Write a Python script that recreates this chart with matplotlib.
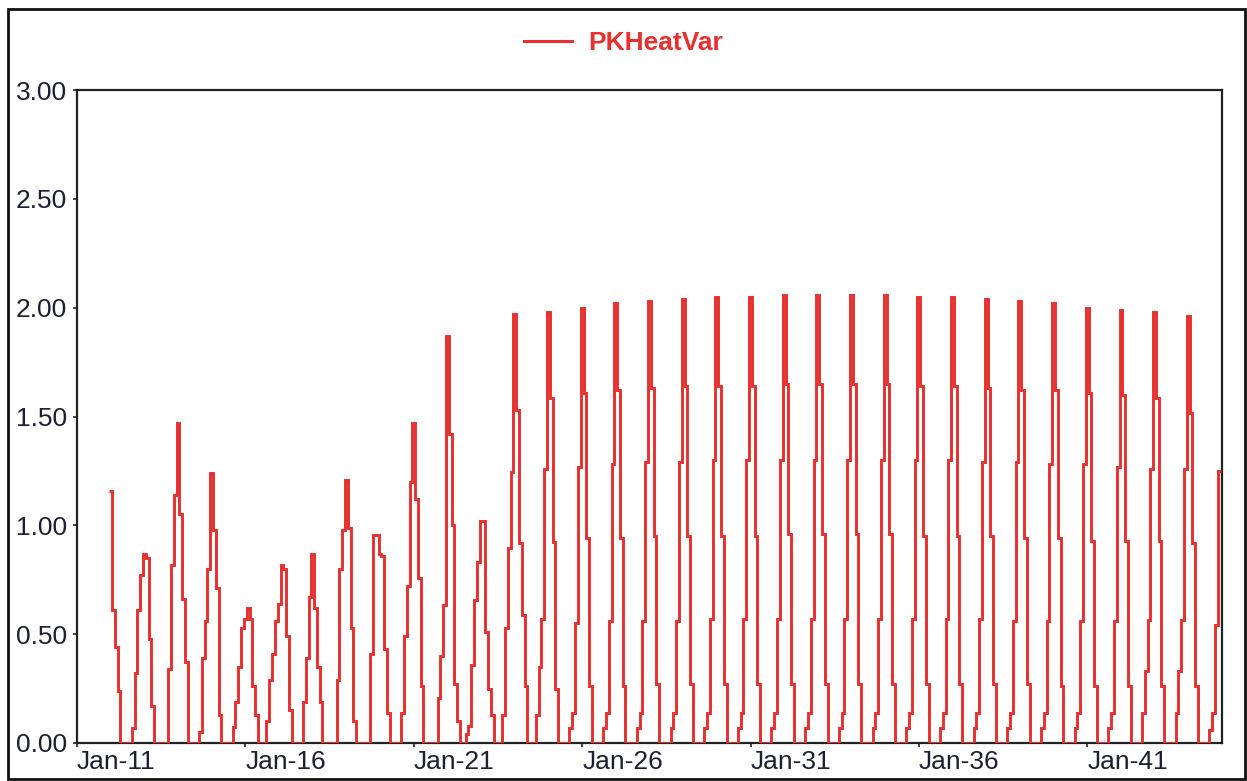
import matplotlib
matplotlib.use("Agg")
import matplotlib.pyplot as plt
import matplotlib.dates as mdates
from matplotlib.patches import Rectangle
import numpy as np
import pandas as pd

# Data: monthly PKHeatVar values, Jan 2012 .. Dec 2044 (one row per year, Jan..Dec)
series_name = "PKHeatVar"
first_month = "2012-01-01"
pk_heat = [
    1.16, 0.61, 0.44, 0.24, 0, 0, 0, 0, 0.07, 0.32, 0.61, 0.77,        # 2012
    0.87, 0.85, 0.48, 0.17, 0, 0, 0, 0, 0, 0.34, 0.82, 1.14,           # 2013
    1.47, 1.05, 0.66, 0.37, 0, 0, 0, 0, 0.05, 0.39, 0.56, 0.80,        # 2014
    1.24, 0.98, 0.71, 0.13, 0, 0, 0, 0, 0.075, 0.19, 0.35, 0.53,       # 2015
    0.57, 0.62, 0.57, 0.26, 0.13, 0, 0, 0, 0.10, 0.29, 0.41, 0.56,     # 2016
    0.64, 0.82, 0.80, 0.49, 0.15, 0, 0, 0, 0, 0.19, 0.39, 0.67,        # 2017
    0.87, 0.62, 0.35, 0.19, 0, 0, 0, 0, 0, 0.29, 0.80, 0.98,           # 2018
    1.21, 0.99, 0.53, 0.10, 0, 0, 0, 0, 0, 0.41, 0.955, 0.955,         # 2019
    0.87, 0.86, 0.43, 0.14, 0, 0, 0, 0, 0.14, 0.49, 0.72, 1.20,        # 2020
    1.47, 1.12, 0.76, 0.26, 0, 0, 0, 0, 0, 0.205, 0.40, 0.634,         # 2021
    1.87, 1.42, 1.00, 0.27, 0.10, 0, 0, 0.04, 0.08, 0.36, 0.657, 0.833,  # 2022
    1.02, 1.02, 0.51, 0.25, 0.13, 0, 0, 0, 0.13, 0.53, 0.894, 1.247,   # 2023
    1.97, 1.53, 0.917, 0.588, 0.26, 0, 0, 0, 0.13, 0.35, 0.57, 1.26,   # 2024
    1.98, 1.585, 0.925, 0.25, 0, 0, 0, 0, 0.067, 0.136, 0.55, 1.27,   # 2025
    2.00, 1.61, 0.94, 0.26, 0, 0, 0, 0, 0.07, 0.14, 0.56, 1.28,        # 2026
    2.02, 1.62, 0.94, 0.26, 0, 0, 0, 0, 0.07, 0.14, 0.56, 1.29,        # 2027
    2.03, 1.63, 0.95, 0.27, 0, 0, 0, 0, 0.07, 0.14, 0.56, 1.29,        # 2028
    2.04, 1.64, 0.95, 0.27, 0, 0, 0, 0, 0.07, 0.14, 0.57, 1.30,        # 2029
    2.05, 1.64, 0.95, 0.27, 0, 0, 0, 0, 0.07, 0.14, 0.57, 1.30,        # 2030
    2.05, 1.64, 0.95, 0.27, 0, 0, 0, 0, 0.07, 0.14, 0.57, 1.30,        # 2031
    2.06, 1.65, 0.96, 0.27, 0, 0, 0, 0, 0.07, 0.14, 0.57, 1.30,        # 2032
    2.06, 1.65, 0.96, 0.27, 0, 0, 0, 0, 0.07, 0.14, 0.57, 1.30,        # 2033
    2.06, 1.65, 0.96, 0.27, 0, 0, 0, 0, 0.07, 0.14, 0.57, 1.30,        # 2034
    2.06, 1.65, 0.96, 0.27, 0, 0, 0, 0, 0.07, 0.14, 0.57, 1.30,        # 2035
    2.05, 1.64, 0.95, 0.27, 0, 0, 0, 0, 0.07, 0.14, 0.57, 1.30,        # 2036
    2.05, 1.64, 0.95, 0.27, 0, 0, 0, 0, 0.07, 0.14, 0.57, 1.29,        # 2037
    2.04, 1.63, 0.95, 0.27, 0, 0, 0, 0, 0.07, 0.14, 0.56, 1.29,        # 2038
    2.03, 1.62, 0.94, 0.27, 0, 0, 0, 0, 0.07, 0.14, 0.56, 1.28,        # 2039
    2.02, 1.62, 0.94, 0.26, 0, 0, 0, 0, 0.07, 0.14, 0.56, 1.28,        # 2040
    2.00, 1.61, 0.93, 0.26, 0, 0, 0, 0, 0.07, 0.14, 0.56, 1.27,        # 2041
    1.99, 1.60, 0.93, 0.26, 0, 0, 0, 0, 0.14, 0.33, 0.565, 1.26,       # 2042
    1.98, 1.585, 0.93, 0.26, 0, 0, 0, 0, 0.14, 0.33, 0.565, 1.26,      # 2043
    1.96, 1.515, 0.92, 0.26, 0, 0, 0, 0, 0.06, 0.14, 0.54, 1.25,       # 2044
]
tick_years = [2011, 2016, 2021, 2026, 2031, 2036, 2041]
y_ticks = [0.0, 0.5, 1.0, 1.5, 2.0, 2.5, 3.0]

red = "#E8302E"
txt = "#1f1f33"
plt.rcParams["font.family"] = ["Liberation Sans", "DejaVu Sans"]

W, H = 1247, 781
fig = plt.figure(figsize=(W / 100, H / 100), dpi=100)
ax = fig.add_axes([77 / W, 1 - 743 / H, (1222 - 77) / W, (743 - 90) / H])

# each monthly value is held from half a month before to half a month after its date
t = mdates.date2num(pd.date_range(first_month, periods=len(pk_heat), freq="MS"))
mid = (t[1:] + t[:-1]) / 2
edges = np.concatenate([[t[0] - (t[1] - t[0]) / 2], mid, [t[-1] + (t[-1] - t[-2]) / 2]])
ax.stairs(pk_heat, edges, baseline=None, color=red, linewidth=2.1,
          zorder=3, label=series_name)

ax.set_xlim(mdates.date2num(pd.Timestamp("2011-01-01")),
            mdates.date2num(pd.Timestamp("2045-01-01")))
ax.set_ylim(0, 3.0)

ax.set_yticks(y_ticks)
ax.set_yticklabels([f"{v:.2f}" for v in y_ticks])
tick_dates = [pd.Timestamp(f"{y}-01-01") for y in tick_years]
ax.set_xticks(mdates.date2num(tick_dates))
ax.set_xticklabels([d.strftime("%b-%y") for d in tick_dates], ha="left")

ax.tick_params(axis="both", direction="out", length=3, width=1.2,
               labelsize=19, labelcolor=txt, color="#222222", pad=4)
ax.tick_params(axis="x", pad=2)
for s in ax.spines.values():
    s.set_linewidth(1.6)
    s.set_color("#222222")

# legend above the plot
leg = fig.legend(handles=[plt.Line2D([], [], color=red, linewidth=2.2)],
                 labels=[series_name], loc="center",
                 bbox_to_anchor=(0.5, 1 - 43 / H), frameon=False,
                 handlelength=1.8, handletextpad=0.6,
                 prop={"weight": "bold", "size": 19})
for t_ in leg.get_texts():
    t_.set_color(red)

# outer frame of the picture
fig.patches.append(Rectangle((8 / W, 2 / H), (1245 - 8) / W, (H - 11) / H,
                             transform=fig.transFigure, fill=False,
                             edgecolor="#111111", linewidth=2))

fig.savefig("out.png", dpi=100)
